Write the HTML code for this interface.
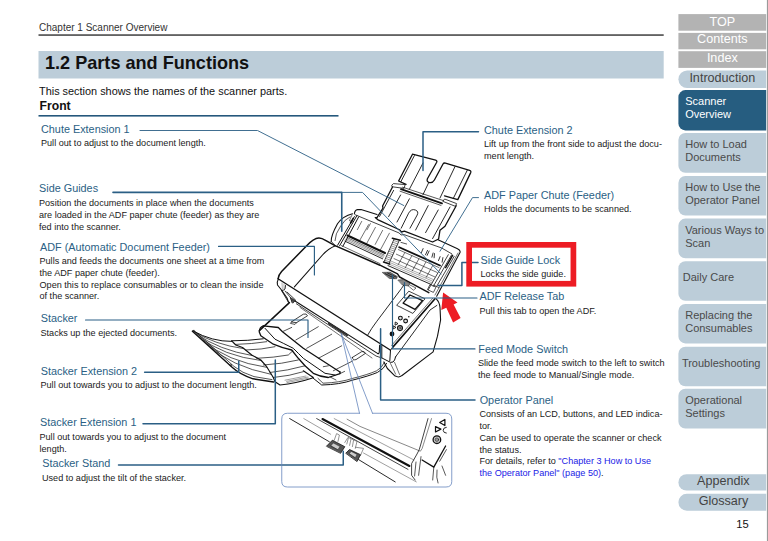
<!DOCTYPE html>
<html><head><meta charset="utf-8"><title>1.2 Parts and Functions</title>
<style>
html,body{margin:0;padding:0;background:#fff;}
body{width:768px;height:541px;position:relative;overflow:hidden;font-family:"Liberation Sans",sans-serif;}
.t{position:absolute;white-space:nowrap;}
.sb{position:absolute;left:678.4px;width:87.8px;white-space:nowrap;}
.r{position:absolute;}
</style></head><body>
<svg class="r" style="left:0;top:0" width="768" height="541" viewBox="0 0 768 541"><rect x="678.4" y="14.1" width="87.8" height="16.6" fill="#b3b3b3"/><rect x="678.4" y="32.9" width="87.8" height="16.4" fill="#b3b3b3"/><rect x="678.4" y="51.2" width="87.8" height="16.7" fill="#b3b3b3"/><path d="M766.2,70.5 H687.15 A8.75,8.75 0 0 0 687.15,88 H766.2 Z" fill="#bccdd9"/><path d="M766.2,90.1 H685.4 A7,7 0 0 0 678.4,97.1 V123.4 A7,7 0 0 0 685.4,130.4 H766.2 Z" fill="#265d80"/><path d="M766.2,133 H685.4 A7,7 0 0 0 678.4,140 V165.7 A7,7 0 0 0 685.4,172.7 H766.2 Z" fill="#bccdd9"/><path d="M766.2,175.9 H685.4 A7,7 0 0 0 678.4,182.9 V208.5 A7,7 0 0 0 685.4,215.5 H766.2 Z" fill="#bccdd9"/><path d="M766.2,218.6 H685.4 A7,7 0 0 0 678.4,225.6 V251.2 A7,7 0 0 0 685.4,258.2 H766.2 Z" fill="#bccdd9"/><path d="M766.2,261.3 H685.4 A7,7 0 0 0 678.4,268.3 V293.7 A7,7 0 0 0 685.4,300.7 H766.2 Z" fill="#bccdd9"/><path d="M766.2,304 H685.4 A7,7 0 0 0 678.4,311 V336.4 A7,7 0 0 0 685.4,343.4 H766.2 Z" fill="#bccdd9"/><path d="M766.2,346.8 H685.4 A7,7 0 0 0 678.4,353.8 V379.2 A7,7 0 0 0 685.4,386.2 H766.2 Z" fill="#bccdd9"/><path d="M766.2,388.8 H685.4 A7,7 0 0 0 678.4,395.8 V421.6 A7,7 0 0 0 685.4,428.6 H766.2 Z" fill="#bccdd9"/><path d="M766.2,474.2 H686.6 A8.2,8.2 0 0 0 686.6,490.6 H766.2 Z" fill="#bccdd9"/><path d="M766.2,493.75 H686.88 A8.47,8.47 0 0 0 686.88,510.7 H766.2 Z" fill="#bccdd9"/><rect x="38.5" y="34.4" width="625.2" height="1.3" fill="#222"/><rect x="38.5" y="51" width="625.2" height="27.5" fill="#bccdd9"/><rect x="38.5" y="115" width="300" height="1.6" fill="#25587c"/><rect x="766.9" y="0" width="1.1" height="541" fill="#9a9a9a"/></svg>
<svg class="r" style="left:0;top:0" width="768" height="541" viewBox="0 0 768 541" fill="none" stroke-linecap="round" stroke-linejoin="round">
<!-- ===== chute extension 2 ===== -->
<g stroke="#111" stroke-width="0.9">
<path d="M412.5,154.2 L435.6,160.2 Q437.4,160.8 436.7,162.2 L427.4,178.8 Q426.3,181.8 429.4,182.6 Q432.6,183.2 434.4,180 L443,164 Q443.8,162.6 445.4,163.1 L469.6,170.3 Q471.4,171 470.7,172.6 L457.8,199.6 L444.5,195.8 M406,184.4 L398.6,181 L412.5,154.2" stroke-width="1.3"/>
<path d="M414.4,155.6 L400.8,181.8"/>
<path d="M423,163 L409.4,189.2"/>
<path d="M428.7,182.6 L423,194.6"/>
<path d="M455,166.6 L440,198"/>
<path d="M467.2,170.4 L453.2,198.6"/>
</g>
<!-- hinge -->
<g stroke="#111" stroke-width="0.8">
<path d="M392,185 L393.4,183.6 L405.2,184.6 L404,188.4 L392.4,186.8 Z" />
<path d="M443,201 L444.6,199 L456.6,203.6 L455.6,206 Z"/>
<path d="M401,189.2 L442,203.4" stroke-width="1.8"/>
<path d="M402.6,187.2 L443.4,200.6" stroke-width="0.7"/>
<path d="M400,191.2 L441,205.4" stroke-width="0.7"/>
</g>
<!-- ===== ADF paper chute ===== -->
<g stroke="#111" stroke-width="0.9">
<path d="M392.5,187 L382.6,206 L383,208 L377,217.6 L375.2,217.6 L377.6,219.6 L400,230 L401.4,232 L404.4,231.2 L432.6,242 L438.6,239 L440,230.2 L445,226.2 L456.2,205.8" stroke-width="1.3"/>
<path d="M393.6,190.4 L379.6,216.4"/>
<path d="M400.6,195 L388.6,216.6"/>
<path d="M409.4,198.8 L397,222"/>
<path d="M401.2,228.2 L408.6,213.2 Q411.2,208.4 415.4,210 Q419,211.4 417.2,215 L410,228.2"/>
<path d="M428.2,205.6 L415.6,230"/>
<path d="M438.2,210 L425.6,232.6"/>
<path d="M450,207 L432.6,238.6"/>
</g>
<!-- ===== ADF cover / body ===== -->
<g stroke="#111" stroke-width="0.9">
<path d="M278.1,278.8 C278.2,276 279.4,273.8 281.6,271.4 L306.2,246.2 C310.4,241.8 314.4,238.3 318.8,238.1 C321.4,238 323.6,239.2 326,240.6 L335,245.6 L380,265.2 L397.5,273.9 L399.6,277 L405,279.8 L428.8,292.6" stroke-width="1.5"/>
<path d="M294.4,286.9 L322.5,255 Q328.4,248.6 335.4,245.8" stroke-width="1.1"/>
<path d="M278.1,278.8 L390.2,350" stroke-width="1.35"/>
<path d="M295,301 L377.5,353.4 Q379,354.2 379.3,352 L379.6,345.4" stroke-width="1.1"/>
<path d="M296.4,303.8 L376,356 L381.8,358" stroke-width="0.8"/>
<path d="M300,307.4 L372,358" stroke-width="0.6"/>
<path d="M329,323.6 L347,335.2" stroke-width="2.2" stroke="#333"/>

<path d="M278.5,278.8 Q276.6,282 277.5,285 L281.5,290 L287,298 L288.5,302.2" stroke-width="1.1"/>
<path d="M285.5,285.5 L285,289 Q284,290.4 282,290.5" stroke-width="0.9"/>
<path d="M282,283 L282.4,289 M284,284 L284,289.4" stroke-width="0.5" stroke="#666"/>
<path d="M281.5,290.5 L288,301.5 M285,291 L290.5,297.5 L292,302.5 M287,292 L295.5,300" stroke-width="0.8"/>
<path d="M290.5,297.5 L295.5,300.5 L293,303 Z" fill="#444" stroke-width="0.6"/>
<!-- panel left seam -->
<path d="M404,284.8 L401.4,288.6 L376.9,321.2 Q371.4,328.4 367.6,335.2"/>
<!-- panel right edge multi-line -->
<path d="M435,298.8 L392.6,347.4" stroke-width="1.6"/>
<path d="M432.6,298.4 L391.6,345.4" stroke-width="0.6"/>
<path d="M436.9,305.4 L430,310 L395.6,356.8"/>
<!-- side face -->
<path d="M436.2,298.8 Q439.6,302 440,307.5 L440.6,320 L437.5,336.2 L433.1,351.9 L401.7,375.7 Q399.4,377.6 396.6,376.6 L394.6,375.7 L387.4,368.5 L383.9,361.9" stroke-width="1.1"/>
<path d="M381.8,345.6 L381.8,357.9 L390.5,362.4 Q393.6,362.8 394.6,360 L395.6,356.8 M390.5,350.2 L389.8,361 M390.5,350.2 L393.5,346.2" stroke-width="1"/>
<path d="M390.5,363.5 L395.6,374.1 M394.6,362.4 L399.6,374.6" stroke-width="0.6"/>

<!-- LCD -->
<path d="M396.9,305 L408.8,291.2 L425,298.8 L413.1,313.1 Z" stroke-width="0.8"/>
<path d="M403.1,303.1 L410,295 L422.5,300.6 L415,309.4 Z" stroke-width="1.3"/>
<!-- buttons -->
<circle cx="400.4" cy="318.1" r="1.9" stroke-width="1.1" fill="#ddd"/>
<circle cx="405.6" cy="321" r="1.9" stroke-width="1.1" fill="#ddd"/>
<circle cx="400" cy="328.1" r="2.5" stroke-width="1.1" fill="#ccc"/>
<circle cx="400" cy="328.1" r="1" stroke-width="0.6"/>
<circle cx="408.8" cy="316.8" r="0.8" fill="#111" stroke="none"/>
<circle cx="392" cy="334" r="2.4" fill="#111" stroke="none"/>
<path d="M395.6,322.2 L398,323.6 L395.4,325 Z M393.6,326 L396,327.4 L393.4,328.8 Z" stroke-width="0.9"/>
</g>
<!-- ===== paper table ===== -->
<g stroke="#111" stroke-width="0.8">
<!-- left wing -->
<path d="M331.2,241.4 Q330.8,236 337.5,223.8 Q343,216 352.5,213.8" stroke-width="1.1"/>
<path d="M335,240.6 Q335,234 340.6,226.2 Q345,219 350,216.9" stroke-width="0.7"/>
<path d="M331.2,241.4 L335,245.4" stroke-width="0.8"/>
<!-- frame -->
<path d="M354.4,213.8 Q354.8,210 357.5,209.6 L361,209.6 L377,214.6" stroke-width="1.1"/>
<path d="M438,239.8 L457.5,248.8 Q460.8,250.5 460,252.5 L436.7,296.3" stroke-width="1.1"/>
<path d="M355,214.7 L399.2,233 L401,235 L404,234.6 L441.7,248 L451.7,253.8" stroke-width="0.8"/>
<path d="M458,253 L435,295" stroke-width="0.6"/>
<!-- left side guide bar -->
<path d="M354.4,216.6 L337.6,245.2 M356.9,215.6 L339.6,245.8 M358.6,217 L342.8,246.4" stroke-width="1"/>
<path d="M353.2,218.4 L350.6,223" stroke-width="1.6"/>
<path d="M352,215 L349.4,220.6 L352.4,221.6" stroke-width="0.6"/>
<!-- feed lines upper-left -->
<path d="M361.7,221.4 L357.4,229.6 M368.6,224.6 L359.6,240.6 M375.4,227.4 L366.4,244 M382.6,230.4 L375.2,244.4 M389.4,233.2 L380,250.6 M370.4,223.6 L367,229.8" stroke-width="0.6"/>
<!-- left dark bar -->
<path d="M347.5,235.5 L385,253" stroke-width="2"/>
<path d="M346.8,237.4 L384.2,255" stroke-width="0.6"/>
<!-- hatched strip -->
<path d="M346.2,238.6 L383.8,256.2 M345.6,239.8 L383.2,257.4" stroke-width="0.55" stroke="#444"/>
<path d="M390.4,260.8 L433.4,279.6 M389.6,262.4 L432.6,281.2 M388.8,264 L431.8,282.8" stroke-width="0.5" stroke="#555"/>
<path d="M345,241.2 L382.6,258.8 M388,265.6 L431,284.4" stroke-width="0.9"/>
<path d="M341.4,245.6 L380,263.6" stroke-width="0.6"/>
<!-- center guide -->
<path d="M394.2,238.8 L384.2,261.3 M399.2,240.5 L389.2,263" stroke-width="0.8"/>
<path d="M394,240.6 L398.6,242.2 M393.2,242.4 L397.8,244 M392.4,244.2 L397,245.8 M391.6,246 L396.2,247.6 M390.8,247.8 L395.4,249.4 M390,249.6 L394.6,251.2 M389.2,251.4 L393.8,253 M388.4,253.2 L393,254.8 M387.6,255 L392.2,256.6 M386.8,256.8 L391.4,258.4 M386,258.6 L390.6,260.2 M385.2,260.4 L389.8,262" stroke-width="0.5" stroke="#333"/>
<path d="M392.4,238.2 L400.2,240.2" stroke-width="1.6"/>
<path d="M401,242.4 L406.6,244" stroke-width="1" stroke="#555"/>
<path d="M383.6,262 L389.6,264" stroke-width="1.6"/>
<!-- right dark bar -->
<path d="M399.2,247.2 L440,265.5" stroke-width="1.8"/>
<path d="M398.4,249.6 L439,267.6" stroke-width="0.6"/>
<!-- grid -->
<path d="M396.4,254.2 L437,272.4 M394,258.6 L434.6,276.8" stroke-width="0.6"/>
<path d="M404.8,252.6 L398.2,264.6 M411.8,255.8 L405.2,267.8 M418.8,259 L412.2,271 M425.8,262.2 L419.2,274.2 M432.8,265.4 L426.2,277.4" stroke-width="0.6"/>
<!-- icon strip -->
<path d="M423.1,248.6 L421.3,252.8 M427.5,250.4 L425.5,254.8 M429.1,251.0 L427.1,255.4 M433.1,253.0 L431.9,257.2 M434.5,253.6 L434.1,257.8 M440.1,256.6 L438.5,260.6 M442.9,257.6 L442.1,262.2" stroke-width="0.9" stroke="#222"/>
<!-- right side guide -->
<path d="M448.3,254.7 L428.3,289.7 M451.7,254.7 L433.3,286.3 M454.2,256.3 L436.7,286.3" stroke-width="0.8"/>
<path d="M452.6,255.4 L445.6,267.6" stroke-width="1.4"/>
<path d="M430.4,284.6 L436,287.2 L433.4,292.4 L427.8,289.8 Z M433.8,285.2 L439,287.6" stroke-width="0.7"/>
<!-- feed mode switch + release tab -->
<path d="M382.6,272.4 L390,272.2 L397.4,276.6 L396.6,278.8 L389.6,278.4 Z" stroke-width="0.5" fill="#777"/>
<path d="M385,273.6 L394,278 M387.6,273 L396,277" stroke-width="0.8"/>
<path d="M398.2,280 L403.6,279.6 L410,283.6 L408.4,286 L402.6,285 Z" stroke-width="0.5" fill="#888"/>
<path d="M410,285 L416,288 L413.4,290.2 L408.4,286" stroke-width="0.6"/>
</g>
<!-- ===== stacker ===== -->
<g stroke="#111" stroke-width="0.9">
<path d="M289.4,302.6 L259.4,330.6" stroke-width="1.5"/>
<path d="M263.3,325.8 L278.3,327.5 L282.5,331.7 L303.3,348.3 L340,372" stroke-width="1.3"/>
<path d="M263.3,325.8 Q259.6,327 259.2,331.7 L260.8,335.8 L273.3,344.2 Q282,348 291.7,350 L298.3,358.3 L305,365.8 L313.3,373.3 Q320,376.6 328.3,377.5 L340,373.6 L340,372" stroke-width="1.3"/>
<path d="M265,328.3 L275,339.2 L283.3,343.3 L293.3,348.3 L298.3,353.3 L303.3,358.3 L325,373.3 L335,375" stroke-width="1"/>
<path d="M283,331.4 L291.7,327.4 M295.8,340 L318.3,326.7 M306.7,348.3 L331.7,334.2 M318.3,358.3 L341.7,345.8 M323.3,366.7 L328.4,365.8 M333.3,370.8 L353,360.8" stroke-width="0.72"/>
<path d="M291.7,321.7 L303.3,314.2 Q306.6,313 307.5,315.8 L296.7,322.5 Z" stroke-width="0.8"/>
<path d="M291.7,321.7 L290.4,323.4 L295,324.4 L296.7,322.5" stroke-width="0.72"/>
<path d="M313.3,378.3 L321.7,385 Q340,384.6 353,380 Q369,376 377.5,372.4 Q384,369 386.6,363.4" stroke-width="1"/>
<path d="M318,378.4 L323,383.2 Q340,382.6 352.6,378.4 Q368,374.6 376.6,370.8 Q382,368 384.4,362.4" stroke-width="0.72"/>
<path d="M340,373.6 L344.6,371.4 M330,376.9 L336,380" stroke-width="0.72"/>
<path d="M352.4,357.4 L361.8,351.6 Q364.6,350.8 365.4,353.4 L356,359.6 Q352.6,360.6 352.4,357.4 Z" stroke-width="0.8"/>
<!-- ext 1 -->
<path d="M231.7,340.8 Q248,340.8 263.3,338.8" stroke-width="1"/>
<path d="M231.7,340.8 L235.8,345 L242.5,347.5 L251.7,355 L260.8,360 L266.7,366.7 L273.3,377.5 L275,381.7 L280,385 Q296,383.6 311.7,378.3 L313.3,377.5 L303.3,370.8" stroke-width="1.15"/>
<path d="M235.8,344.4 Q252,344 266.7,341.7 M245.8,350 Q262,349.6 275,346.7 M256.7,358.3 Q274,357.6 288.3,355 L293,350.6 M263.3,365 Q282,364 298.3,360 M270,372.5 Q288,370.6 305,365.8 M273.3,377.5 Q290,376 303.3,371.7" stroke-width="0.72"/>
<path d="M286.6,381.4 L308,377 M287,382.6 L308.4,378.2 M285,380.2 L306,376" stroke-width="0.5" stroke="#444"/>
<!-- ext 2 fan -->
<path d="M192.4,331.2 L232.4,367.5 Q240,374.5 253,378.8 L273.6,382" stroke-width="1.4"/>
<path d="M194,330.6 L234,366.4 Q242,373 254,376.6 L272,379.6" stroke-width="0.72"/>
<path d="M192.4,331.2 L194,330.6" stroke-width="1"/>
<path d="M193.2,331 Q212,341.6 231.7,341.4" stroke-width="1"/>
<path d="M194.4,332 Q215,344.6 243.4,348.6 M196.4,334 Q219,350 252.4,355.6 M199.4,337 Q223,356 261.4,360.6 M203,340.4 Q227,361.6 267,367.4 M207.4,344.6 Q231,366.6 271.4,374.4" stroke-width="0.7"/>
<circle cx="230.6" cy="365" r="0.9" stroke-width="0.5"/>
</g>
<!-- ===== inset ===== -->
<g stroke="#111" stroke-width="0.8">
<path d="M289.7,418.6 L329.4,441.8 M358.6,459.6 L395.2,481.9" stroke-width="0.9"/>
<path d="M303.8,418.6 L330.7,434.3 M363.5,453 L416.3,481.9" stroke="#777" stroke-width="0.7"/>
<path d="M316.7,418.6 L408,469.4" stroke-width="0.8"/>
<path d="M322.5,419 L409.4,466" stroke-width="2.1"/>
<path d="M334.2,418.6 L413.9,460" stroke="#777" stroke-width="0.7"/>
<path d="M347.1,419.2 L360,426.4 L420.4,451.2 Q422.4,449 423.3,444.8 L431.5,418.6" stroke="#555" stroke-width="0.7"/>
<path d="M428,418.6 L420.6,445 Q419.6,450 417,454 L411.6,463.6 L411.6,475.3 L415.1,480" stroke-width="0.8"/>
<path d="M421,456.6 L418.6,475.3 M416,462 L414.6,476" stroke-width="0.7"/>
<path d="M422.1,460 L433.8,467.1 L445.6,446" stroke-width="1.3"/>
<path d="M439.7,461.2 L446.4,449.6 M433.8,467.1 L432.7,480 M442,466 L445.6,475.3 M437,470 Q436,478 438,483" stroke-width="0.7"/>
<path d="M439.7,422.6 L444.9,419.5 L444.9,425.6 Z M435.5,426.6 L435.5,432 L440.9,429.1 Z" stroke-width="1.2"/>
<path d="M446.3,427.3 Q443,427.6 443.2,430.4 Q443.4,433 446.3,433.1" stroke-width="0.9"/>
<circle cx="436.9" cy="439.7" r="3.8" stroke-width="1.3" fill="#ccc"/>
<circle cx="436.9" cy="439.7" r="1.8" stroke-width="0.5" fill="#999"/>
<!-- stand -->
<path d="M334.2,440.2 L336.6,433.6 L339.4,435 L338,441.4" stroke="#666" stroke-width="0.7"/>
<path d="M344.8,442.5 L348,437.4 L357,441.4 L355.3,448.4" stroke="#666" stroke-width="0.7"/>
<path d="M348.4,438 L346.8,444 M351,439 L349.6,445.4 M353.6,440 L352.4,446.6" stroke="#777" stroke-width="0.8"/>
<path d="M355.3,447.2 L363.5,448.4 L360.5,455.4" stroke="#666" stroke-width="0.7"/>
<path d="M326.7,446 L332.4,440.2 L344.8,446.7 L340.8,453 Z" fill="#555" stroke-width="0.8"/>
<path d="M331,445.6 L333.4,443 L340,446.6 L338,449.4 Z" fill="#ccc" stroke-width="0.4"/>
<path d="M346,453 L349.5,449.5 L360.5,454.7 L357.2,461.2 Z" fill="#555" stroke-width="0.8"/>
<path d="M349.4,453.4 L351.2,451.4 L357,454.4 L355.4,457.4 Z" fill="#ccc" stroke-width="0.4"/>
</g>
<!-- red arrow -->
<path d="M443.1,292.5 L457.5,302.5 L453.6,304.4 L460.6,318.1 L453.1,322.5 L446.3,307.7 L441.3,310 Z" fill="#ed1c24" stroke="none"/>
<!-- ===== leaders ===== -->
<g stroke="#2b5f85">
<path d="M140,130.5 H257.5 L403.75,205.5" stroke-width="0.9"/>
<path d="M113,192.4 H341.75 V231.25" stroke-width="1.6"/>
<path d="M341.75,192.4 H362.5 L441,274" stroke-width="0.9"/>
<path d="M218.5,246.4 H314.4 V275" stroke-width="1.15"/>
<path d="M85.5,320 H308 V337.5" stroke-width="1.15"/>
<path d="M144.6,372.3 H238.75 V361.25" stroke-width="1.5"/>
<path d="M143,423.8 H275.3 V360" stroke-width="1.5"/>
<path d="M118.5,465 H343.25 V451.25" stroke-width="1.5"/>
<path d="M478.5,131.75 H423 V170.5" stroke-width="1.5"/>
<path d="M478.5,197.6 H472.5 L440,251.25" stroke-width="0.9"/>
<path d="M478,262.6 H461.9 V285.4 H438.4" stroke-width="1.5"/>
<path d="M477,298 H404.5 V282.5" stroke-width="1.15"/>
<path d="M475,348.9 H392.5 V275" stroke-width="1.15"/>
<path d="M475,400 H380.6 V328.75" stroke-width="1.5"/>
</g>
<g stroke="#6485bd" stroke-width="0.8">
<path d="M341.25,333.75 L359.5,413.25 M341.25,333.75 L372.5,413.25"/>
<path d="M359.5,413.25 H287.5 Q281.75,413.25 281.75,419 V481.5 Q281.75,487 287.5,487 H446 Q451.75,487 451.75,481.5 V419 Q451.75,413.25 446,413.25 H372.5"/>
</g>
<rect x="469.15" y="244.85" width="104.25" height="38.9" fill="none" stroke="#ed1c24" stroke-width="5.7" stroke-linejoin="miter"/>
</svg>

<div class="t" style="left:39px;top:22px;font-size:10px;line-height:12px;color:#333;">Chapter 1 Scanner Overview</div><div class="t" style="left:45px;top:52px;font-size:18.1px;line-height:22px;color:#111;font-weight:bold;">1.2 Parts and Functions</div><div class="t" style="left:39px;top:85px;font-size:10.9px;line-height:13px;color:#111;">This section shows the names of the scanner parts.</div><div class="t" style="left:39.5px;top:99px;font-size:12.2px;line-height:15px;color:#111;font-weight:bold;">Front</div><div class="t" style="left:41px;top:123px;font-size:10.85px;line-height:13px;color:#2b5f85;">Chute Extension 1</div><div class="t" style="left:41px;top:138px;font-size:9.1px;line-height:11px;color:#1a1a1a;">Pull out to adjust to the document length.</div><div class="t" style="left:39px;top:182px;font-size:10.85px;line-height:13px;color:#2b5f85;">Side Guides</div><div class="t" style="left:39px;top:198px;font-size:9.1px;line-height:11px;color:#1a1a1a;">Position the documents in place when the documents</div><div class="t" style="left:39px;top:210px;font-size:9.1px;line-height:11px;color:#1a1a1a;">are loaded in the ADF paper chute (feeder) as they are</div><div class="t" style="left:39px;top:222px;font-size:9.1px;line-height:11px;color:#1a1a1a;">fed into the scanner.</div><div class="t" style="left:40px;top:241px;font-size:10.85px;line-height:13px;color:#2b5f85;">ADF (Automatic Document Feeder)</div><div class="t" style="left:39.5px;top:256px;font-size:9.1px;line-height:11px;color:#1a1a1a;">Pulls and feeds the documents one sheet at a time from</div><div class="t" style="left:39.5px;top:268px;font-size:9.1px;line-height:11px;color:#1a1a1a;">the ADF paper chute (feeder).</div><div class="t" style="left:39.5px;top:280px;font-size:9.1px;line-height:11px;color:#1a1a1a;">Open this to replace consumables or to clean the inside</div><div class="t" style="left:39.5px;top:291px;font-size:9.1px;line-height:11px;color:#1a1a1a;">of the scanner.</div><div class="t" style="left:40.7px;top:312px;font-size:10.85px;line-height:13px;color:#2b5f85;">Stacker</div><div class="t" style="left:40.5px;top:328px;font-size:9.1px;line-height:11px;color:#1a1a1a;">Stacks up the ejected documents.</div><div class="t" style="left:40.7px;top:365px;font-size:10.85px;line-height:13px;color:#2b5f85;">Stacker Extension 2</div><div class="t" style="left:40.5px;top:380px;font-size:9.1px;line-height:11px;color:#1a1a1a;">Pull out towards you to adjust to the document length.</div><div class="t" style="left:40px;top:416px;font-size:10.85px;line-height:13px;color:#2b5f85;">Stacker Extension 1</div><div class="t" style="left:39.5px;top:432px;font-size:9.1px;line-height:11px;color:#1a1a1a;">Pull out towards you to adjust to the document</div><div class="t" style="left:39.5px;top:444px;font-size:9.1px;line-height:11px;color:#1a1a1a;">length.</div><div class="t" style="left:42.2px;top:457px;font-size:10.85px;line-height:13px;color:#2b5f85;">Stacker Stand</div><div class="t" style="left:42px;top:473px;font-size:9.1px;line-height:11px;color:#1a1a1a;">Used to adjust the tilt of the stacker.</div><div class="t" style="left:484px;top:124px;font-size:10.85px;line-height:13px;color:#2b5f85;">Chute Extension 2</div><div class="t" style="left:484px;top:139px;font-size:9.1px;line-height:11px;color:#1a1a1a;">Lift up from the front side to adjust the docu-</div><div class="t" style="left:484px;top:151px;font-size:9.1px;line-height:11px;color:#1a1a1a;">ment length.</div><div class="t" style="left:484px;top:189px;font-size:10.85px;line-height:13px;color:#2b5f85;">ADF Paper Chute (Feeder)</div><div class="t" style="left:484px;top:204px;font-size:9.1px;line-height:11px;color:#1a1a1a;">Holds the documents to be scanned.</div><div class="t" style="left:480.5px;top:254px;font-size:10.85px;line-height:13px;color:#2b5f85;">Side Guide Lock</div><div class="t" style="left:480.5px;top:269px;font-size:9.1px;line-height:11px;color:#1a1a1a;">Locks the side guide.</div><div class="t" style="left:479.5px;top:290px;font-size:10.85px;line-height:13px;color:#2b5f85;">ADF Release Tab</div><div class="t" style="left:479.5px;top:306px;font-size:9.1px;line-height:11px;color:#1a1a1a;">Pull this tab to open the ADF.</div><div class="t" style="left:478.3px;top:343px;font-size:10.85px;line-height:13px;color:#2b5f85;">Feed Mode Switch</div><div class="t" style="left:478px;top:358px;font-size:9.1px;line-height:11px;color:#1a1a1a;">Slide the feed mode switch to the left to switch</div><div class="t" style="left:478px;top:370px;font-size:9.1px;line-height:11px;color:#1a1a1a;">the feed mode to Manual/Single mode.</div><div class="t" style="left:479.7px;top:394px;font-size:10.85px;line-height:13px;color:#2b5f85;">Operator Panel</div><div class="t" style="left:479.5px;top:409px;font-size:9.1px;line-height:11px;color:#1a1a1a;">Consists of an LCD, buttons, and LED indica-</div><div class="t" style="left:479.5px;top:421px;font-size:9.1px;line-height:11px;color:#1a1a1a;">tor.</div><div class="t" style="left:479.5px;top:433px;font-size:9.1px;line-height:11px;color:#1a1a1a;">Can be used to operate the scanner or check</div><div class="t" style="left:479.5px;top:445px;font-size:9.1px;line-height:11px;color:#1a1a1a;">the status.</div><div class="t" style="left:479.5px;top:456px;font-size:9.1px;line-height:11px;color:#1a1a1a;">For details, refer to <span style="color:#1a1ae6">"Chapter 3 How to Use</span></div><div class="t" style="left:479.5px;top:468px;font-size:9.1px;line-height:11px;color:#1a1a1a;"><span style="color:#1a1ae6">the Operator Panel" (page 50)</span>.</div><div class="t" style="left:736.2px;top:518px;font-size:11.2px;line-height:13px;color:#111;">15</div>
<div class="sb" style="top:14px;height:16px;line-height:16px;left:678.4px;color:#fff;text-align:center;font-size:12.6px;">TOP</div><div class="sb" style="top:31px;height:16px;line-height:16px;left:678.4px;color:#fff;text-align:center;font-size:12.6px;">Contents</div><div class="sb" style="top:50px;height:16px;line-height:16px;left:678.4px;color:#fff;text-align:center;font-size:12.6px;">Index</div><div class="sb" style="top:70px;height:16px;line-height:16px;left:678.4px;color:#444;text-align:center;font-size:12.6px;">Introduction</div><div class="sb" style="top:90.1px;height:40.3px;color:#fff;font-size:11px;"><div style="padding-top:5px;line-height:13px;text-align:left"><div style="padding-left:6.8px">Scanner</div><div style="padding-left:6.8px">Overview</div></div></div><div class="sb" style="top:133px;height:39.7px;color:#4a4a4a;font-size:11px;"><div style="padding-top:5px;line-height:13px;text-align:left"><div style="padding-left:6.8px">How to Load</div><div style="padding-left:6.8px">Documents</div></div></div><div class="sb" style="top:175.9px;height:39.6px;color:#4a4a4a;font-size:11px;"><div style="padding-top:5px;line-height:13px;text-align:left"><div style="padding-left:6.8px">How to Use the</div><div style="padding-left:6.8px">Operator Panel</div></div></div><div class="sb" style="top:218.6px;height:39.6px;color:#4a4a4a;font-size:11px;"><div style="padding-top:5px;line-height:13px;text-align:left"><div style="padding-left:6.8px">Various Ways to</div><div style="padding-left:6.8px">Scan</div></div></div><div class="sb" style="top:261.3px;height:39.4px;color:#4a4a4a;font-size:11px;"><div style="padding-top:10px;line-height:13px;text-align:left"><div style="padding-left:4.4px">Daily Care</div></div></div><div class="sb" style="top:304px;height:39.4px;color:#4a4a4a;font-size:11px;"><div style="padding-top:5px;line-height:13px;text-align:left"><div style="padding-left:6.8px">Replacing the</div><div style="padding-left:6.8px">Consumables</div></div></div><div class="sb" style="top:346.8px;height:39.4px;color:#4a4a4a;font-size:11px;"><div style="padding-top:10px;line-height:13px;text-align:left"><div style="padding-left:3.5px">Troubleshooting</div></div></div><div class="sb" style="top:388.8px;height:39.8px;color:#4a4a4a;font-size:11px;"><div style="padding-top:5px;line-height:13px;text-align:left"><div style="padding-left:6.8px">Operational</div><div style="padding-left:6.8px">Settings</div></div></div><div class="sb" style="top:473px;height:16px;line-height:16px;left:679.4px;color:#444;text-align:center;font-size:12.6px;">Appendix</div><div class="sb" style="top:493px;height:16px;line-height:16px;left:679.6px;color:#444;text-align:center;font-size:12.6px;">Glossary</div>
</body></html>
